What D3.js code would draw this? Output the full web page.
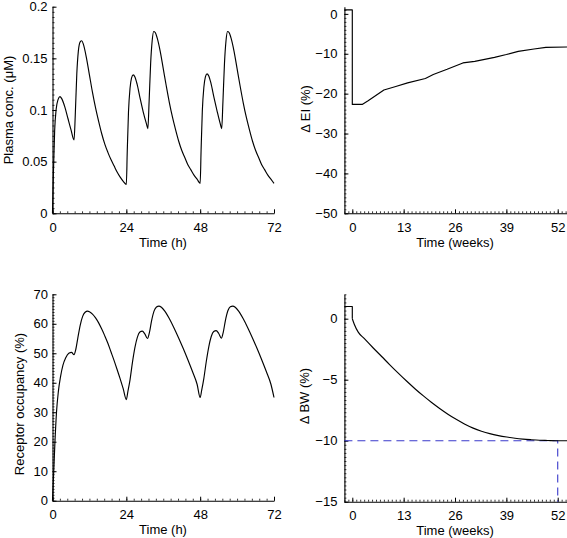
<!DOCTYPE html>
<html>
<head>
<meta charset="utf-8">
<script src="https://cdn.jsdelivr.net/npm/d3@7"></script>
<style>
  html, body { margin: 0; padding: 0; background: #fff; }
  svg { display: block; font-family: "Liberation Sans", Arial, Helvetica, sans-serif; }
</style>
</head>
<body>
<svg id="chart" width="567" height="538"></svg>
<script>
// ---------- DATA ----------
// Panel A: plasma concentration (µM) vs time (h)
const plasmaTime = [0,0.3,0.7,1.2,1.8,2.4,3,4,5,6,7,7.4,7.9,8.4,9,9.5,10,11,12,13,14,15,16,17,18,19,20,21,22,23,24,
  24.3,24.7,25.2,25.7,26.2,26.8,27.5,28.5,29.5,30.5,31,31.4,31.9,32.4,32.9,33.4,34,35,36,37,38,39,40,41,42,43,44,45,46,47,48,
  48.3,48.7,49.2,49.7,50.2,50.8,51.5,52.5,53.5,54.5,55,55.4,55.9,56.4,56.9,57.4,58,59,60,61,62,63,64,65,66,67,68,69,70,71,72];
const plasmaConc = [0,0.04,0.08,0.101,0.110,0.113,0.111,0.103,0.092,0.081,0.071,0.095,0.135,0.157,0.166,0.167,0.164,0.151,0.134,0.117,0.102,0.089,0.077,0.067,0.059,0.052,0.046,0.040,0.035,0.031,0.028,
  0.06,0.098,0.121,0.131,0.134,0.132,0.125,0.111,0.098,0.087,0.082,0.108,0.145,0.167,0.176,0.175,0.170,0.157,0.140,0.123,0.107,0.093,0.081,0.070,0.061,0.054,0.047,0.042,0.037,0.033,0.029,
  0.061,0.099,0.122,0.132,0.135,0.133,0.126,0.112,0.099,0.087,0.082,0.108,0.145,0.167,0.176,0.175,0.170,0.157,0.140,0.123,0.107,0.093,0.081,0.070,0.061,0.054,0.047,0.042,0.037,0.033,0.029];

// Panel B: change in energy intake (%) vs time (weeks)
const eiWeek   = [-2,0,0,2.5,4,8,11,14,18.5,20.5,24,28,31,36,39,42,46,49,54.35];
const eiChange = [1,1,-22.7,-22.7,-21.8,-19.1,-18.2,-17.3,-16.2,-15.2,-13.9,-12.3,-11.9,-10.9,-10.2,-9.4,-8.8,-8.4,-8.3];

// Panel C: receptor occupancy (%) vs time (h)
const roTime = [0,0.4,0.8,1.3,1.9,2.6,3.4,4.3,5.3,6.2,7,7.5,8.2,9,9.8,10.6,11.4,12,13,14,15,16,17,18,19,20,21,22,23,24,
  24.5,25.2,26,26.8,27.6,28.4,29.2,30,30.9,31.5,32.2,33,33.8,34.6,35.4,36.5,38,39.5,41,42.5,44,45.5,47,48,
  48.5,49.2,50,50.8,51.6,52.4,53.2,54,54.9,55.5,56.2,57,57.8,58.6,59.4,60.5,62,63.5,65,66.5,68,69.5,71,72];
const roValue = [0,10,20,30,37,42,46,48.5,50,50.3,49.5,51,55,59.5,62.5,63.9,64.3,64.1,63.3,62,60.3,58.2,55.9,53.4,50.5,47.6,44.5,41.3,37.9,34.3,
  37,41,47,52,55.5,57.2,57.5,56.6,55,57,61,64.3,65.7,66,65.6,64.3,61.7,58.6,55.2,51.6,47.8,43.8,39.5,35,
  37.5,41.5,47.3,52.2,55.7,57.4,57.7,56.8,55.1,57.1,61.1,64.4,65.8,66,65.6,64.3,61.7,58.6,55.2,51.6,47.8,43.8,39.5,35];

// Panel D: change in body weight (%) vs time (weeks)
const bwWeek   = [-2,0,0,0.5,1.5,3,5.3,7.5,9.5,11.5,13.8,16,18,20,22.2,24.3,26.4,28.5,30.6,32.7,34.8,37,39.1,41.2,43.2,45.3,47.4,49.5,51.6,54.35];
const bwChange = [1,1,0,-0.45,-1.1,-1.62,-2.4,-3.12,-3.78,-4.42,-5.13,-5.78,-6.33,-6.85,-7.38,-7.85,-8.27,-8.65,-8.97,-9.22,-9.42,-9.58,-9.7,-9.8,-9.87,-9.92,-9.96,-9.98,-10.0,-10.0];
const bwTargetWeek = [-2,52,52];
const bwTargetValue = [-10,-10,-15];

// Tick values
const hourTicks = [0,24,48,72];
const concTicks = [0,0.05,0.1,0.15,0.2];
const weekTicks = [0,13,26,39,52];
const eiTicks = [0,-10,-20,-30,-40,-50];
const roTicks = [0,10,20,30,40,50,60,70];
const bwTicks = [0,-5,-10,-15];

// ---------- DRAW ----------
const svg = d3.select("#chart");
svg.append("rect").attr("width",567).attr("height",538).attr("fill","#fff");

const FS = 13;

function panel(cfg) {
  const g = svg.append("g");
  const x = d3.scaleLinear().domain(cfg.xDomain).range(cfg.xRange);
  const y = d3.scaleLinear().domain(cfg.yDomain).range(cfg.yRange);
  const x0 = cfg.xRange[0], y0 = cfg.yRange[0];

  // minor ticks x
  g.append("g").attr("transform",`translate(0,${y0})`)
    .call(d3.axisBottom(x).tickValues(cfg.xMinor).tickSize(-2).tickFormat(""))
    .call(s => s.select(".domain").remove())
    .call(s => s.selectAll("line").attr("stroke","#000").attr("stroke-width",0.8));
  // minor ticks y
  g.append("g").attr("transform",`translate(${x0},0)`)
    .call(d3.axisLeft(y).tickValues(cfg.yMinor).tickSize(-2).tickFormat(""))
    .call(s => s.select(".domain").remove())
    .call(s => s.selectAll("line").attr("stroke","#000").attr("stroke-width",0.8));

  // major x axis
  const xa = g.append("g").attr("transform",`translate(0,${y0})`)
    .call(d3.axisBottom(x).tickValues(cfg.xTicks).tickSize(-4).tickSizeOuter(0).tickPadding(9.5).tickFormat(d3.format("d")));
  // major y axis
  const ya = g.append("g").attr("transform",`translate(${x0},0)`)
    .call(d3.axisLeft(y).tickValues(cfg.yTicks).tickSize(-4).tickSizeOuter(0).tickPadding(cfg.yPad).tickFormat(cfg.yFormat));
  [xa, ya].forEach(a => {
    a.selectAll("text").attr("font-size",FS).attr("fill","#000").attr("font-family","'Liberation Sans', Arial, sans-serif");
    a.selectAll("line").attr("stroke","#000").attr("stroke-width",1);
    a.select(".domain").attr("stroke","#000").attr("stroke-width",1.1);
  });

  // titles
  g.append("text").attr("x", cfg.xTitleX).attr("y", y0 + 33.5)
    .attr("text-anchor","middle").attr("font-size",FS).attr("fill","#000").text(cfg.xTitle);
  g.append("text").attr("transform",`translate(${cfg.yTitleX},${cfg.yTitleY}) rotate(-90)`)
    .attr("text-anchor","middle").attr("font-size",FS).attr("fill","#000").text(cfg.yTitle);

  return {g, x, y};
}

function drawLine(p, xs, ys, opts = {}) {
  const pts = xs.map((d,i) => [d, ys[i]]);
  const line = d3.line().x(d => p.x(d[0])).y(d => p.y(d[1])).curve(opts.curve || d3.curveLinear);
  p.g.append("path").datum(pts).attr("d", line).attr("fill","none")
    .attr("stroke", opts.color || "#000").attr("stroke-width", opts.width || 1.15)
    .attr("stroke-dasharray", opts.dash || null).attr("stroke-linejoin","round");
}

const fmtConc = d => d === 0 ? "0" : d3.format("~g")(d);
const fmtInt = d3.format("d");

// Panel A
const pA = panel({
  xDomain:[0,72], xRange:[52.5,274], yDomain:[0,0.2], yRange:[213.3,6.7],
  xTicks:hourTicks, yTicks:concTicks, xMinor:d3.range(0,72.01,2.4), yMinor:d3.range(0,0.2001,0.005),
  yFormat:fmtConc, yPad:5, xTitle:"Time (h)", xTitleX:163, yTitle:"Plasma conc. (\u03BCM)", yTitleX:13, yTitleY:110
});
drawLine(pA, plasmaTime, plasmaConc, {curve: d3.curveMonotoneX});

// Panel B
const pB = panel({
  xDomain:[-2,54.35], xRange:[344.4,567], yDomain:[-50,1.8], yRange:[213.3,6.7],
  xTicks:weekTicks, yTicks:eiTicks, xMinor:d3.range(-2,54.3,1), yMinor:d3.range(-50,1.8,1),
  yFormat:fmtInt, yPad:7, xTitle:"Time (weeks)", xTitleX:455, yTitle:"\u0394 EI (%)", yTitleX:310, yTitleY:109
});
drawLine(pB, eiWeek, eiChange);

// Panel C
const pC = panel({
  xDomain:[0,72], xRange:[52.5,274], yDomain:[0,70], yRange:[500.7,294.3],
  xTicks:hourTicks, yTicks:roTicks, xMinor:d3.range(0,72.01,2.4), yMinor:d3.range(0,70.01,1),
  yFormat:fmtInt, yPad:4.5, xTitle:"Time (h)", xTitleX:163, yTitle:"Receptor occupancy (%)", yTitleX:24, yTitleY:404
});
drawLine(pC, roTime, roValue, {curve: d3.curveMonotoneX});

// Panel D
const pD = panel({
  xDomain:[-2,54.35], xRange:[344.4,567], yDomain:[-15,2], yRange:[501.7,294.3],
  xTicks:weekTicks, yTicks:bwTicks, xMinor:d3.range(-2,54.3,1), yMinor:d3.range(-15,2.01,1/3),
  yFormat:fmtInt, yPad:7, xTitle:"Time (weeks)", xTitleX:455, yTitle:"\u0394 BW (%)", yTitleX:309, yTitleY:396
});
drawLine(pD, bwTargetWeek, bwTargetValue, {color:"#3a3acb", dash:"8,5", width:1.1});
drawLine(pD, bwWeek.slice(0,3), bwChange.slice(0,3));
drawLine(pD, bwWeek.slice(2), bwChange.slice(2), {curve: d3.curveMonotoneX});
</script>
</body>
</html>
